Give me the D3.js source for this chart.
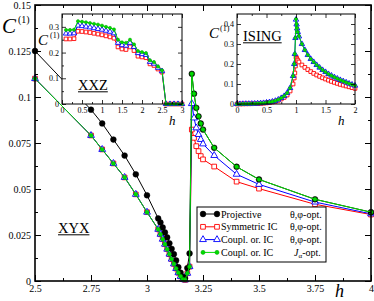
<!DOCTYPE html>
<html>
<head>
<meta charset="utf-8">
<script src="https://cdn.jsdelivr.net/npm/d3@7"></script>
<style>
body { margin: 0; background: #fff; }
svg { display: block; font-family: "Liberation Serif", "Times New Roman", serif; }
</style>
</head>
<body>
<svg id="chart" width="374" height="301"></svg>
<script>
// ---- main panel (XYX) ----
var hMain = [2.5, 2.75, 2.8, 2.85, 2.9, 2.95, 3.0, 3.05, 3.06, 3.07, 3.08, 3.09, 3.1, 3.11, 3.12, 3.13, 3.14,
  3.15, 3.16, 3.17, 3.18, 3.19, 3.2, 3.21, 3.22, 3.23, 3.24, 3.25, 3.3, 3.4, 3.5, 3.75, 4];
var cProj = [0.125, 0.0931, 0.0856, 0.0769, 0.0682, 0.058, 0.0466, 0.034, 0.0318, 0.0291, 0.0264, 0.0237, 0.0205,
  0.0175, 0.0146, 0.0112, 0.0075, 0.0045, 0.0022, 0.0015, 0.007, 0.015,
  0.1126, 0.1018, 0.0941, 0.0895, 0.0856, 0.0823, 0.0724, 0.0621, 0.0552, 0.0444, 0.0374];
var cSym = [0.110, 0.0791, 0.0715, 0.0639, 0.0563, 0.0471, 0.0374, 0.0281, 0.0254, 0.0227, 0.02, 0.0173, 0.0146,
  0.0119, 0.0093, 0.0068, 0.0045, 0.0025, 0.001, 0.0006, 0.0042, 0.0078,
  0.0823, 0.0778, 0.0733, 0.0706, 0.0679, 0.0661, 0.0622, 0.054, 0.0502, 0.0417, 0.0361];
var cCoupl = [0.110, 0.0791, 0.0715, 0.0639, 0.0563, 0.0471, 0.0374, 0.0281, 0.0254, 0.0227, 0.02, 0.0173, 0.0146,
  0.0119, 0.0093, 0.0068, 0.0045, 0.0025, 0.001, 0.0006, 0.0042, 0.0078,
  0.0964, 0.0886, 0.0832, 0.0796, 0.0769, 0.0745, 0.0682, 0.058, 0.0525, 0.0429, 0.0365];
var cCouplJ = [0.110, 0.0791, 0.0715, 0.0639, 0.0563, 0.0471, 0.0374, 0.0281, 0.0254, 0.0227, 0.02, 0.0173, 0.0146,
  0.0119, 0.0093, 0.0068, 0.0045, 0.0025, 0.001, 0.0006, 0.0042, 0.0078,
  0.1126, 0.1018, 0.0941, 0.0895, 0.0856, 0.0823, 0.0724, 0.0621, 0.0552, 0.0444, 0.0374];
var mainXTicks = [2.5, 2.75, 3, 3.25, 3.5, 3.75, 4];
var mainXLabels = ['2.5', '2.75', '3', '3.25', '3.5', '3.75', '4'];
var mainYTicks = [0, 0.025, 0.05, 0.075, 0.1, 0.125, 0.15];
var mainYLabels = ['0', '0.025', '0.05', '0.075', '0.1', '0.125', '0.15'];

// ---- inset XXZ ----
var hXXZ = [0.1, 0.2, 0.3, 0.4, 0.5, 0.6, 0.7, 0.8, 0.9, 1.0, 1.1, 1.2, 1.3, 1.4, 1.5, 1.6, 1.7, 1.8, 1.9, 2.0,
  2.1, 2.2, 2.3, 2.4, 2.5, 2.6, 2.7, 2.8, 2.9, 3.0];
var xxzSym = [0.253, 0.253, 0.254, 0.283, 0.282, 0.28, 0.278, 0.275, 0.272, 0.269, 0.265, 0.261, 0.256, 0.222,
  0.214, 0.212, 0.222, 0.208, 0.186, 0.183, 0.18, 0.156, 0.15, 0.136, 0.124, 0, 0, 0, 0, 0];
var xxzCoupl = [0.274, 0.274, 0.275, 0.305, 0.303, 0.301, 0.298, 0.295, 0.292, 0.289, 0.285, 0.281, 0.275, 0.238,
  0.229, 0.227, 0.238, 0.222, 0.198, 0.194, 0.191, 0.164, 0.157, 0.141, 0.128, 0, 0, 0, 0, 0];
var xxzCouplJ = [0.288, 0.288, 0.289, 0.322, 0.32, 0.318, 0.315, 0.312, 0.309, 0.305, 0.3, 0.296, 0.29, 0.25,
  0.24, 0.238, 0.25, 0.232, 0.206, 0.202, 0.198, 0.17, 0.163, 0.146, 0.131, 0, 0, 0, 0, 0];
var xxzXTicks = [0, 0.5, 1, 1.5, 2, 2.5, 3];
var xxzXLabels = ['0', '0.5', '1', '1.5', '2', '2.5', '3'];
var xxzYTicks = [0, 0.1, 0.2, 0.3];
var xxzYLabels = ['0', '0.1', '0.2', '0.3'];

// ---- inset ISING ----
var hIsing = [0, 0.05, 0.1, 0.15, 0.2, 0.25, 0.3, 0.35, 0.4, 0.45, 0.5, 0.55, 0.6, 0.65, 0.7, 0.75, 0.8, 0.85,
  0.9, 0.95, 0.97, 0.98, 0.99, 1.0, 1.01, 1.02, 1.03, 1.05, 1.1, 1.15, 1.2, 1.25, 1.3, 1.35, 1.4, 1.45, 1.5,
  1.55, 1.6, 1.65, 1.7, 1.75, 1.8, 1.85, 1.9, 1.95, 2.0];
var isingSym = [0, 0, 0.0004, 0.0008, 0.001, 0.0013, 0.0017, 0.0024, 0.003, 0.004, 0.0055, 0.0075, 0.01, 0.013,
  0.018, 0.025, 0.033, 0.045, 0.065, 0.1, 0.13, 0.155, 0.19, 0.235, 0.228, 0.222, 0.217, 0.21, 0.195, 0.183,
  0.172, 0.162, 0.153, 0.145, 0.138, 0.131, 0.125, 0.119, 0.113, 0.108, 0.103, 0.098, 0.094, 0.09, 0.086,
  0.082, 0.078];
var isingCoupl = [0, 0, 0.0005, 0.001, 0.001, 0.0015, 0.002, 0.003, 0.004, 0.005, 0.007, 0.009, 0.012, 0.016,
  0.022, 0.03, 0.04, 0.055, 0.08, 0.14, 0.2, 0.25, 0.33, 0.422, 0.398, 0.378, 0.36, 0.338, 0.3, 0.27, 0.245,
  0.225, 0.21, 0.195, 0.182, 0.17, 0.16, 0.15, 0.142, 0.134, 0.127, 0.12, 0.114, 0.108, 0.102, 0.097, 0.092];
var isingCouplJ = [0, 0, 0.0005, 0.001, 0.001, 0.0015, 0.002, 0.003, 0.004, 0.005, 0.007, 0.009, 0.012, 0.016,
  0.022, 0.03, 0.04, 0.055, 0.08, 0.14, 0.2, 0.25, 0.33, 0.425, 0.4, 0.38, 0.36, 0.34, 0.3, 0.27, 0.245,
  0.225, 0.21, 0.195, 0.182, 0.17, 0.16, 0.15, 0.142, 0.134, 0.127, 0.12, 0.114, 0.108, 0.102, 0.097, 0.092];
var isingXTicks = [0, 0.5, 1, 1.5, 2];
var isingXLabels = ['0', '0.5', '1', '1.5', '2'];
var isingYTicks = [0, 0.1, 0.2, 0.3, 0.4];
var isingYLabels = ['0', '0.1', '0.2', '0.3', '0.4'];

var legendNames = ['Projective', 'Symmetric IC', 'Coupl. or. IC', 'Coupl. or. IC'];

var RED = '#ff0000', BLUE = '#0000ff', GREEN = '#00dd00';

var svg = d3.select('#chart');

function zip(hs, cs) { return hs.map(function(h, i) { return [h, cs[i]]; }); }

// box frame with inward major/minor ticks on all four sides
function drawAxes(g, xs, ys, o) {
  var x0 = xs.range()[0], x1 = xs.range()[1], y0 = ys.range()[0], y1 = ys.range()[1];
  var list = [
    [d3.axisBottom(xs), 'translate(0,' + y0 + ')', o.xTicks, o.xMinor, o.xLabels],
    [d3.axisTop(xs), 'translate(0,' + y1 + ')', o.xTicks, o.xMinor, null],
    [d3.axisLeft(ys), 'translate(' + x0 + ',0)', o.yTicks, o.yMinor, o.yLabels],
    [d3.axisRight(ys), 'translate(' + x1 + ',0)', o.yTicks, o.yMinor, null]
  ];
  list.forEach(function(a) {
    var ax = a[0].tickValues(a[2]).tickSize(-o.major).tickPadding(o.pad)
      .tickFormat(function(d, i) { return a[4] ? a[4][i] : ''; });
    var ga = g.append('g').attr('transform', a[1]).call(ax);
    ga.select('.domain').remove();
    ga.attr('font-family', null).attr('font-size', o.fs);
    ga.selectAll('line').attr('stroke', '#000').attr('stroke-width', o.tw);
    ga.selectAll('text').attr('fill', '#000');
    var gm = g.append('g').attr('transform', a[1])
      .call(a[0].tickValues(a[3]).tickSize(-o.minor).tickFormat(''));
    gm.select('.domain').remove();
    gm.selectAll('line').attr('stroke', '#000').attr('stroke-width', o.tw);
  });
  g.append('rect').attr('x', x0).attr('y', y1).attr('width', x1 - x0).attr('height', y0 - y1)
    .attr('fill', 'none').attr('stroke', '#000').attr('stroke-width', o.fw);
}

function drawSeries(g, xs, ys, pts, s) {
  var line = d3.line().x(function(d) { return xs(d[0]); }).y(function(d) { return ys(d[1]); });
  g.append('path').datum(pts).attr('d', line).attr('fill', 'none')
    .attr('stroke', s.color).attr('stroke-width', s.lw);
  g.selectAll(null).data(pts).enter().append('path')
    .attr('transform', function(d) { return 'translate(' + xs(d[0]) + ',' + ys(d[1]) + ')'; })
    .attr('d', d3.symbol().type(s.sym).size(s.size))
    .attr('fill', s.fill).attr('stroke', s.stroke).attr('stroke-width', s.sw);
}

function styles(k) {
  return [
    { color: '#000', sym: d3.symbolCircle, size: 26 * k, fill: '#000', stroke: '#000', sw: 0.5, lw: 1 },
    { color: RED, sym: d3.symbolSquare, size: 22 * k, fill: '#fff', stroke: RED, sw: 0.9, lw: 1 },
    { color: BLUE, sym: d3.symbolTriangle, size: 20 * k, fill: '#fff', stroke: BLUE, sw: 0.9, lw: 1 },
    { color: GREEN, sym: d3.symbolCircle, size: 13 * k, fill: GREEN, stroke: '#00a000', sw: 0.5, lw: 1 }
  ];
}

// ---- main ----
var x = d3.scaleLinear().domain([2.5, 4]).range([35, 371]);
var y = d3.scaleLinear().domain([0, 0.15]).range([281, 5]);
var gMain = svg.append('g');
var st = styles(1);
drawSeries(gMain, x, y, zip(hMain, cSym), st[1]);
drawSeries(gMain, x, y, zip(hMain, cCoupl), st[2]);
drawSeries(gMain, x, y, zip(hMain, cProj), st[0]);
drawSeries(gMain, x, y, zip(hMain, cCouplJ), st[3]);
drawAxes(gMain, x, y, {
  xTicks: mainXTicks, xLabels: mainXLabels, xMinor: d3.range(2.625, 4, 0.25),
  yTicks: mainYTicks, yLabels: mainYLabels, yMinor: d3.range(0.0125, 0.15, 0.025),
  major: 6, minor: 3, pad: 4, fs: 10, tw: 1, fw: 1.6
});

// ---- insets ----
function inset(xs, ys, sets, ax) {
  var g = svg.append('g');
  g.append('rect').attr('x', xs.range()[0]).attr('y', ys.range()[1])
    .attr('width', xs.range()[1] - xs.range()[0]).attr('height', ys.range()[0] - ys.range()[1])
    .attr('fill', '#fff');
  var si = styles(0.62);
  sets.forEach(function(s, i) { drawSeries(g, xs, ys, s, si[i + 1]); });
  drawAxes(g, xs, ys, ax);
  return g;
}
var x1 = d3.scaleLinear().domain([0, 3]).range([62, 182]);
var y1 = d3.scaleLinear().domain([0, 0.35]).range([104, 14]);
inset(x1, y1, [zip(hXXZ, xxzSym), zip(hXXZ, xxzCoupl), zip(hXXZ, xxzCouplJ)], {
  xTicks: xxzXTicks, xLabels: xxzXLabels, xMinor: d3.range(0.25, 3, 0.5),
  yTicks: xxzYTicks, yLabels: xxzYLabels, yMinor: d3.range(0.05, 0.35, 0.1),
  major: 4, minor: 2, pad: 3, fs: 8, tw: 0.8, fw: 1
});
var x2 = d3.scaleLinear().domain([0, 2]).range([237, 355]);
var y2 = d3.scaleLinear().domain([0, 0.45]).range([104, 14]);
inset(x2, y2, [zip(hIsing, isingSym), zip(hIsing, isingCoupl), zip(hIsing, isingCouplJ)], {
  xTicks: isingXTicks, xLabels: isingXLabels, xMinor: d3.range(0.25, 2, 0.5),
  yTicks: isingYTicks, yLabels: isingYLabels, yMinor: d3.range(0.05, 0.45, 0.1),
  major: 4, minor: 2, pad: 3, fs: 8, tw: 0.8, fw: 1
});

// ---- legend ----
var lg = svg.append('g');
lg.append('rect').attr('x', 197).attr('y', 207).attr('width', 129).attr('height', 55)
  .attr('fill', '#fff').attr('stroke', '#000').attr('stroke-width', 1);
legendNames.forEach(function(name, i) {
  var s = st[i], ly = 214 + i * 12.8;
  lg.append('line').attr('x1', 203).attr('x2', 217).attr('y1', ly).attr('y2', ly)
    .attr('stroke', s.color).attr('stroke-width', 1);
  [203, 217].forEach(function(px) {
    lg.append('path').attr('transform', 'translate(' + px + ',' + ly + ')')
      .attr('d', d3.symbol().type(s.sym).size(s.size)).attr('fill', s.fill)
      .attr('stroke', s.stroke).attr('stroke-width', s.sw);
  });
  lg.append('text').attr('x', 221).attr('y', ly + 3.5).attr('font-size', 10).text(name);
  if (i < 3) {
    lg.append('text').attr('x', 290).attr('y', ly + 3.5).attr('font-size', 10).text('\u03b8,\u03c6-opt.');
  } else {
    var t = lg.append('text').attr('x', 294).attr('y', ly + 3.5).attr('font-size', 10);
    t.append('tspan').attr('font-style', 'italic').text('J');
    t.append('tspan').attr('font-size', 7).attr('dy', 2.5).text('\u03b1');
    t.append('tspan').attr('dy', -2.5).text('-opt.');
  }
});

// ---- labels ----
function label(txt, px, py, fs, italic) {
  return svg.append('text').attr('x', px).attr('y', py).attr('font-size', fs)
    .attr('font-style', italic ? 'italic' : null).text(txt);
}
function underlined(txt, px, py, fs) {
  var t = label(txt, px, py, fs, false);
  var w = t.node().getComputedTextLength();
  svg.append('line').attr('x1', px).attr('x2', px + w).attr('y1', py + 1.8).attr('y2', py + 1.8)
    .attr('stroke', '#000').attr('stroke-width', 1);
}
label('C', 2, 33, 21, true);
label('(1)', 18, 23, 10, false);
label('h', 335, 297, 18, true);
label('C', 38, 45, 15, true);
label('(1)', 50, 38, 8, false);
label('h', 169, 125, 13, true);
label('C', 209, 38, 15, true);
label('(1)', 220, 31, 8, false);
label('h', 338, 125, 13, true);
underlined('XYX', 58, 233, 14.5);
underlined('XXZ', 78, 90, 14.5);
underlined('ISING', 243, 41, 14.5);
</script>
</body>
</html>
